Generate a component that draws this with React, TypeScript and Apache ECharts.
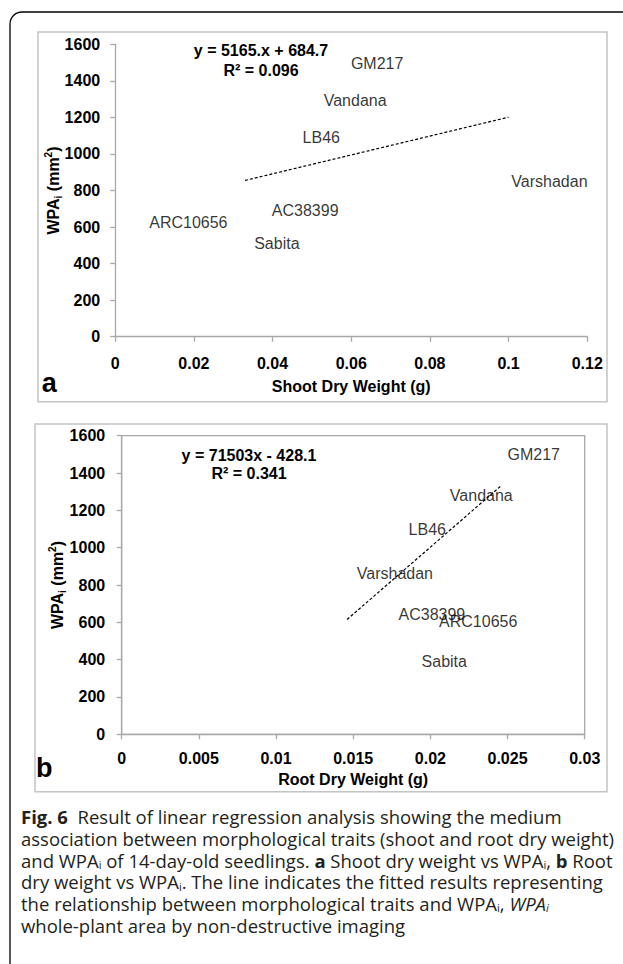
import React, { useEffect, useRef } from "react";
import * as echarts from "echarts";

// ---- data ----
const namesA = ["GM217", "Vandana", "LB46", "Varshadan", "AC38399", "ARC10656", "Sabita"];
const shootWeight = [0.0666, 0.061, 0.0524, 0.1104, 0.0483, 0.0186, 0.0411];
const wpaA = [1496, 1291, 1091, 848, 689, 624, 511];

const namesB = ["GM217", "Vandana", "LB46", "Varshadan", "AC38399", "ARC10656", "Sabita"];
const rootWeight = [0.0267, 0.0233, 0.0198, 0.0177, 0.0201, 0.0231, 0.0209];
const wpaB = [1498, 1278, 1096, 864, 644, 602, 389];

const trendAx = [0.033, 0.1];
const trendAy = [855, 1201];
const trendBx = [0.0146, 0.0246];
const trendBy = [615, 1333];

const eqA = ["y = 5165.x + 684.7", "R\u00B2 = 0.096"];
const eqB = ["y = 71503x - 428.1", "R\u00B2 = 0.341"];

const xTitleA = "Shoot Dry Weight (g)";
const xTitleB = "Root Dry Weight (g)";

const captionLines = [
  "{b|Fig. 6}  Result of linear regression analysis showing the medium",
  "association between morphological traits (shoot and root dry weight)",
  "and WPA{s|i} of 14-day-old seedlings. {b|a} Shoot dry weight vs WPA{s|i}, {b|b} Root",
  "dry weight vs WPA{s|i}. The line indicates the fitted results representing",
  "the relationship between morphological traits and WPA{s|i}, {it|WPA}{its|i}",
  "whole-plant area by non-destructive imaging",
];

const FONT = "Liberation Sans, Arial, sans-serif";
const AXIS_COLOR = "#a8a8a8";

function fmt(v: number) {
  return String(parseFloat(v.toFixed(4)));
}

const yName = "{b|WPA}{s|i}{b| (mm}{p|2}{b|)}";
const yNameStyle = {
  rich: {
    b: { fontSize: 16, fontWeight: "bold", fontFamily: FONT, color: "#000", lineHeight: 20 },
    s: { fontSize: 10, fontWeight: "bold", fontFamily: FONT, color: "#000", lineHeight: 10, verticalAlign: "bottom" },
    p: { fontSize: 10, fontWeight: "bold", fontFamily: FONT, color: "#000", lineHeight: 10, verticalAlign: "top" },
  },
};

function axisCommon() {
  return {
    type: "value" as const,
    splitLine: { show: false },
    axisLine: { show: true, lineStyle: { color: AXIS_COLOR, width: 1.3 } },
    axisTick: { show: true, length: 5, lineStyle: { color: AXIS_COLOR, width: 1.3 } },
  };
}

const labelStyle = {
  fontSize: 16,
  fontWeight: "bold" as const,
  color: "#000",
  fontFamily: FONT,
};

export default function App() {
  const ref = useRef<HTMLDivElement>(null);
  useEffect(() => {
    document.body.style.margin = "0";
    const chart = echarts.init(ref.current!, null, { renderer: "svg" });
    const textEl = (t: string, x: number, y: number, extra: any = {}) => ({
      type: "text",
      x,
      y,
      style: {
        text: t,
        fill: "#000",
        fontSize: 16,
        fontWeight: "bold",
        fontFamily: FONT,
        align: "center",
        textAlign: "center",
        verticalAlign: "middle",
        textVerticalAlign: "middle",
        ...extra,
      },
    });
    const captionRich = {
      b: { fontFamily: "Open Sans", fontSize: 18.5, fontWeight: "bold", fill: "#231f20", lineHeight: 20 },
      s: { fontFamily: "Open Sans", fontSize: 11, fill: "#231f20", lineHeight: 11, verticalAlign: "bottom" },
      it: { fontFamily: "Open Sans", fontSize: 18.5, fontStyle: "italic", fill: "#231f20", lineHeight: 20 },
      its: { fontFamily: "Open Sans", fontSize: 11, fontStyle: "italic", fill: "#231f20", lineHeight: 11, verticalAlign: "bottom" },
    };
    const captionY = [816.7, 838.3, 860, 881.7, 903.3, 925];
    const graphics: any[] = [
      {
        type: "rect",
        shape: { x: 10, y: 12, width: 700, height: 1000, r: [12, 0, 0, 0] },
        style: { fill: "none", stroke: "#000", lineWidth: 1.3 },
        z: -10,
      },
      {
        type: "rect",
        shape: { x: 38, y: 32, width: 569, height: 369.7 },
        style: { fill: "none", stroke: "#c4c4c4", lineWidth: 1.5 },
        z: -10,
      },
      {
        type: "rect",
        shape: { x: 35, y: 424, width: 572, height: 367.7 },
        style: { fill: "none", stroke: "#c4c4c4", lineWidth: 1.5 },
        z: -10,
      },
      textEl(eqA[0], 261, 50),
      textEl(eqA[1], 261, 70),
      textEl(eqB[0], 249, 455),
      textEl(eqB[1], 249, 473),
      textEl("a", 49.3, 382.5, { fontSize: 27 }),
      textEl("b", 44.3, 768, { fontSize: 27 }),
      ...captionLines.map((t, i) => ({
        type: "text",
        x: 21,
        y: captionY[i],
        style: {
          text: t,
          fill: "#231f20",
          fontSize: 18.5,
          fontFamily: "Open Sans",
          lineHeight: 20,
          align: "left",
          textAlign: "left",
          verticalAlign: "middle",
          textVerticalAlign: "middle",
          rich: captionRich,
        },
      })),
    ];

    const scatterLabel = {
      show: true,
      position: "inside",
      color: "#000",
      fontSize: 16,
      fontFamily: FONT,
      formatter: (p: any) => p.data[2],
    };

    chart.setOption({
      animation: false,
      backgroundColor: "#fff",
      grid: [
        { left: 115.2, top: 44.3, width: 472, height: 292.4, containLabel: false },
        {
          left: 121.7,
          top: 435.7,
          width: 463,
          height: 298.6,
          containLabel: false,
          show: true,
          borderColor: AXIS_COLOR,
          borderWidth: 1.3,
          backgroundColor: "transparent",
        },
      ],
      xAxis: [
        {
          ...axisCommon(),
          gridIndex: 0,
          min: 0,
          max: 0.12,
          interval: 0.02,
          axisLabel: { ...labelStyle, margin: 18.5, formatter: fmt },
          name: xTitleA,
          nameLocation: "middle",
          nameGap: 42,
          nameTextStyle: labelStyle,
        },
        {
          ...axisCommon(),
          gridIndex: 1,
          min: 0,
          max: 0.03,
          interval: 0.005,
          axisLabel: { ...labelStyle, margin: 16, formatter: fmt },
          name: xTitleB,
          nameLocation: "middle",
          nameGap: 37.5,
          nameTextStyle: labelStyle,
        },
      ],
      yAxis: [
        {
          ...axisCommon(),
          gridIndex: 0,
          min: 0,
          max: 1600,
          interval: 200,
          axisLabel: { ...labelStyle, margin: 15, formatter: (v: number) => String(v) },
          name: yName,
          nameLocation: "middle",
          nameGap: 51.6,
          nameRotate: 90,
          nameMoveOverlap: false,
          nameTextStyle: yNameStyle,
        },
        {
          ...axisCommon(),
          gridIndex: 1,
          min: 0,
          max: 1600,
          interval: 200,
          axisLabel: { ...labelStyle, margin: 16.5, formatter: (v: number) => String(v) },
          name: yName,
          nameLocation: "middle",
          nameGap: 54.7,
          nameRotate: 90,
          nameMoveOverlap: false,
          nameTextStyle: yNameStyle,
        },
      ],
      series: [
        {
          type: "scatter",
          xAxisIndex: 0,
          yAxisIndex: 0,
          symbolSize: 1,
          itemStyle: { color: "rgba(0,0,0,0)" },
          data: namesA.map((n, i) => [shootWeight[i], wpaA[i], n]),
          label: scatterLabel,
        },
        {
          type: "line",
          xAxisIndex: 0,
          yAxisIndex: 0,
          symbol: "none",
          data: trendAx.map((x, i) => [x, trendAy[i]]),
          lineStyle: { color: "#000", width: 1.2, type: [3, 2] },
        },
        {
          type: "scatter",
          xAxisIndex: 1,
          yAxisIndex: 1,
          symbolSize: 1,
          itemStyle: { color: "rgba(0,0,0,0)" },
          data: namesB.map((n, i) => [rootWeight[i], wpaB[i], n]),
          label: scatterLabel,
        },
        {
          type: "line",
          xAxisIndex: 1,
          yAxisIndex: 1,
          symbol: "none",
          data: trendBx.map((x, i) => [x, trendBy[i]]),
          lineStyle: { color: "#000", width: 1.2, type: [3, 2] },
        },
      ],
      graphic: graphics,
    });
    return () => chart.dispose();
  }, []);
  return (
    <div
      ref={ref}
      style={{ position: "absolute", left: 0, top: 0, width: 623, height: 964, background: "#fff" }}
    />
  );
}
